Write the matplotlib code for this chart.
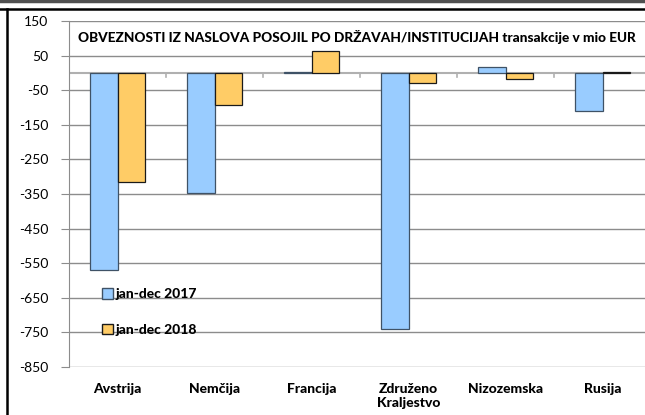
import numpy as np
import matplotlib
matplotlib.use("Agg")
import matplotlib.pyplot as plt
from matplotlib.patches import Rectangle
from matplotlib.lines import Line2D

categories = ["Avstrija", "Nemčija", "Francija", "Združeno\nKraljestvo", "Nizozemska", "Rusija"]
v2017 = [-570, -347, 3, -740, 17, -110]
v2018 = [-315, -92, 63, -28, -19, 4]
series_names = ["jan-dec 2017", "jan-dec 2018"]
yticks = [150, 50, -50, -150, -250, -350, -450, -550, -650, -750, -850]

plt.rcParams['font.family'] = ['Lato', 'DejaVu Sans']
BOLD = "black"

fig = plt.figure(figsize=(6.45, 4.15), dpi=100)
W, H = 645, 415

# axes placed in pixel coordinates (right side runs past the image edge)
ax = fig.add_axes([69 / W, 1 - 367 / H, 582 / W, 346 / H])

x = np.arange(len(categories))
bw = 0.285
ax.bar(x - bw / 2, v2017, bw, color="#99CCFF", edgecolor="#3F5266", linewidth=0.9, zorder=3)
ax.bar(x + bw / 2, v2018, bw, color="#FFCC66", edgecolor="#1A1A1A", linewidth=0.9, zorder=3)

ax.set_xlim(-0.5, len(categories) - 0.5)
ax.set_ylim(-850, 150)
ax.set_yticks(yticks)
ax.set_yticklabels([str(t) for t in yticks], fontsize=10)
ax.yaxis.grid(True, color="#8C8C8C", linewidth=1.0, zorder=0)
ax.tick_params(axis="y", length=6, color="#8C8C8C", pad=9)

for s in ["top", "right", "bottom"]:
    ax.spines[s].set_visible(False)
ax.spines["left"].set_color("#8C8C8C")

# zero line with category separators
ax.axhline(0, color="#B0B0B0", linewidth=1.5, zorder=2)
for b in x[1:] - 0.5:
    ax.plot([b, b], [0, -12], color="#B0B0B0", linewidth=1.2, zorder=2)

ax.set_xticks([])
for xi, c in zip(x, categories):
    ax.text(xi, -897, c, ha="center", va="top", fontsize=10, fontweight=BOLD,
            linespacing=1.2)

ax.text(0.016, 0.955, "OBVEZNOSTI IZ NASLOVA POSOJIL PO DRŽAVAH/INSTITUCIJAH transakcije v mio EUR",
        transform=ax.transAxes, fontsize=9.85, fontweight=BOLD, ha="left", va="center")

handles = [Rectangle((0, 0), 1, 1, facecolor="#99CCFF", edgecolor="#3F5266"),
           Rectangle((0, 0), 1, 1, facecolor="#FFCC66", edgecolor="#1A1A1A")]
ax.legend(handles, series_names, loc="lower left", bbox_to_anchor=(0.035, 0.054),
          frameon=False, prop={"weight": BOLD, "size": 10},
          handlelength=0.8, handleheight=0.8, handletextpad=0.2, labelspacing=1.7)

# outer frame lines
fig.add_artist(Line2D([0, 1], [1 - 1.5 / H, 1 - 1.5 / H], color="#505050", linewidth=2.5))
fig.add_artist(Line2D([0, 1], [1 - 9 / H, 1 - 9 / H], color="black", linewidth=1.8))
fig.add_artist(Line2D([6.5 / W, 6.5 / W], [0, 1 - 9 / H], color="black", linewidth=1.8))

fig.savefig("out.png", dpi=100)
